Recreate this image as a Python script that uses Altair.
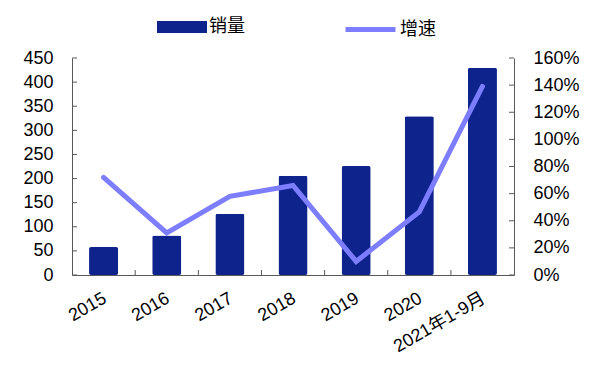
import altair as alt
import pandas as pd

categories = ["2015", "2016", "2017", "2018", "2019", "2020", "2021年1-9月"]
sales = [58, 82, 127, 206, 226, 329, 430]
growth = [0.72, 0.31, 0.58, 0.66, 0.10, 0.465, 1.39]
left_ticks = [0, 50, 100, 150, 200, 250, 300, 350, 400, 450]
right_ticks = [0, 0.2, 0.4, 0.6, 0.8, 1.0, 1.2, 1.4, 1.6]
series_bar = "销量"
series_line = "增速"

NAVY = "#0E248C"
LILAC = "#7D7DFF"
AXIS_COL = "#595959"
FONT = "Liberation Sans, Arial, Noto Sans CJK SC"
CJK = "Noto Sans CJK SC"
FS = 18
W, H = 442, 217

df = pd.DataFrame({"year": categories, "sales": sales, "growth": growth})
df["s1"] = series_bar
df["s2"] = series_line
lt = pd.DataFrame({"v": left_ticks})
rt = pd.DataFrame({"v": right_ticks})
xt = pd.DataFrame({"year": categories[1:]})

xscale = alt.Scale(domain=categories, paddingInner=0.54, paddingOuter=0.27)
x = alt.X(
    "year:N",
    sort=categories,
    title=None,
    scale=xscale,
    axis=alt.Axis(
        labelAngle=-30,
        labelAlign="right",
        labelBaseline="top",
        ticks=False,
        labelPadding=14,
        labelOffset=-3,
        labelOverlap=False,
        labelFont=FONT,
        labelFontSize=FS,
        labelColor="#000000",
        domainColor=AXIS_COL,
    ),
)

yl_scale = alt.Scale(domain=[0, 450], nice=False)
yr_scale = alt.Scale(domain=[0, 1.6], nice=False)

yl_axis = alt.Axis(
    values=left_ticks,
    ticks=False,
    labelOverlap=False,
    labelPadding=19,
    labelFont=FONT,
    labelFontSize=FS,
    labelColor="#000000",
    domainColor=AXIS_COL,
    grid=False,
)
yr_axis = alt.Axis(
    orient="right",
    values=right_ticks,
    format=".0%",
    ticks=False,
    labelOverlap=False,
    labelPadding=19,
    labelFont=FONT,
    labelFontSize=FS,
    labelColor="#000000",
    domainColor=AXIS_COL,
    grid=False,
)

bars = alt.Chart(df).mark_bar(cornerRadius=2, color=NAVY).encode(
    x=x,
    y=alt.Y("sales:Q", title=None, scale=yl_scale, axis=yl_axis),
    color=alt.Color(
        "s1:N",
        scale=alt.Scale(domain=[series_bar], range=[NAVY]),
        legend=alt.Legend(
            title=None,
            orient="none",
            legendX=85,
            legendY=-56,
            symbolType="M-1,-0.24H1V0.24H-1Z",
            symbolSize=2500,
            symbolStrokeWidth=0,
            labelFont=CJK,
            labelFontSize=FS,
            labelColor="#000000",
            labelOffset=2,
        ),
    ),
)

left_tick_marks = alt.Chart(lt).mark_rule(color=AXIS_COL, strokeWidth=1).encode(
    y=alt.Y("v:Q", title=None, scale=yl_scale, axis=yl_axis),
    x=alt.value(0),
    x2=alt.value(5),
)

x_tick_marks = alt.Chart(xt).mark_rule(color=AXIS_COL, strokeWidth=1, xOffset=-17).encode(
    x=alt.X("year:N", sort=categories, scale=xscale, bandPosition=0),
    y=alt.value(H - 5),
    y2=alt.value(H),
)

line = alt.Chart(df).mark_line(strokeWidth=5, strokeCap="round", color=LILAC).encode(
    x=x,
    y=alt.Y("growth:Q", title=None, scale=yr_scale, axis=yr_axis),
    stroke=alt.Stroke(
        "s2:N",
        scale=alt.Scale(domain=[series_line], range=[LILAC]),
        legend=alt.Legend(
            title=None,
            orient="none",
            legendX=271,
            legendY=-56,
            symbolType="stroke",
            symbolSize=2500,
            symbolStrokeWidth=5,
            labelFont=CJK,
            labelFontSize=FS,
            labelColor="#000000",
            labelOffset=2,
        ),
    ),
)

right_tick_marks = alt.Chart(rt).mark_rule(color=AXIS_COL, strokeWidth=1).encode(
    y=alt.Y("v:Q", title=None, scale=yr_scale, axis=yr_axis),
    x=alt.value(W - 5),
    x2=alt.value(W),
)

left_layer = alt.layer(bars, left_tick_marks, x_tick_marks)
right_layer = alt.layer(line, right_tick_marks)

chart = (
    alt.layer(left_layer, right_layer)
    .resolve_scale(y="independent", color="independent", stroke="independent")
    .resolve_legend(color="independent", stroke="independent")
    .properties(
        width=W,
        height=H,
        autosize=alt.AutoSizeParams(type="none"),
        padding={"left": 72, "top": 58, "right": 86, "bottom": 96},
        background="#ffffff",
    )
    .configure_view(stroke=None)
    .configure_axis(labelOverlap=False, labelBound=False)
)

chart.save("out.html", embed_options={"renderer": "svg", "actions": False})
